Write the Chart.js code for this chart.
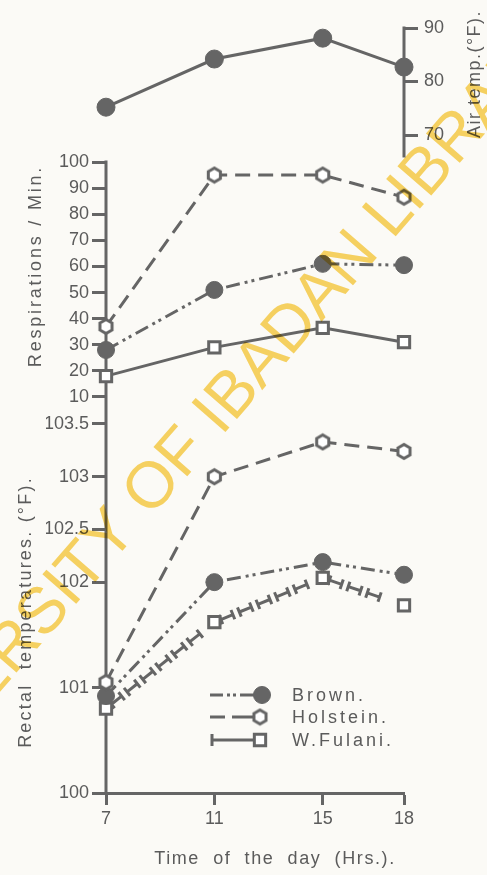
<!DOCTYPE html>
<html>
<head>
<meta charset="utf-8">
<script src="https://cdn.jsdelivr.net/npm/chart.js@4/dist/chart.umd.min.js"></script>
<style>
  html, body { margin: 0; padding: 0; background: #fbfaf6; }
  canvas { display: block; }
</style>
</head>
<body>
<canvas id="c" width="487" height="875"></canvas>
<script>
// Time of day (hours)
const hours = [7, 11, 15, 18];

// Air temperature (°F)
const airTemp = [75.2, 84.2, 88.1, 82.7];

// Respirations per minute
const respBrown = [28, 51, 61, 60.5];
const respHolstein = [37, 95, 95, 86.5];
const respFulani = [18, 29, 36.5, 31];

// Rectal temperatures (°F)
const rectBrown = [100.92, 102.0, 102.19, 102.07];
const rectHolstein = [101.05, 103.0, 103.33, 103.24];
const rectFulani = [100.8, 101.62, 102.04, 101.78];

// Tick labels
const hourTicks = [7, 11, 15, 18];
const airTicks = [70, 80, 90];
const respTicks = [10, 20, 30, 40, 50, 60, 70, 80, 90, 100];
const rectTicks = [100, 101, 102, 102.5, 103, 103.5];

const breeds = ['Brown.', 'Holstein.', 'W.Fulani.'];

const INK = '#656565';
const TXT = '#5b5b5b';
const FONT = '"Liberation Sans", Arial, sans-serif';

const pts = arr => hours.map((h, i) => ({ x: h, y: arr[i] }));

// hollow hexagon marker
function hexMarker(r, lw) {
  const s = Math.ceil(2 * r + lw + 2);
  const c = document.createElement('canvas');
  c.width = s; c.height = s;
  const g = c.getContext('2d');
  g.beginPath();
  for (let k = 0; k < 6; k++) {
    const a = Math.PI / 6 + k * Math.PI / 3;
    const px = s / 2 + r * Math.cos(a), py = s / 2 + r * Math.sin(a);
    k ? g.lineTo(px, py) : g.moveTo(px, py);
  }
  g.closePath();
  g.fillStyle = '#ffffff';
  g.fill();
  g.lineWidth = lw;
  g.strokeStyle = INK;
  g.stroke();
  return c;
}
const hex = hexMarker(7, 3);

const DASH_HOL = [15, 8];
const DASH_BRN = [14, 5, 3, 4, 3, 5];

const styleBrown = {
  borderColor: INK, borderWidth: 3, borderDash: DASH_BRN,
  pointStyle: 'circle', pointRadius: 8.5, pointBackgroundColor: INK, pointBorderColor: INK, pointBorderWidth: 1
};
const styleHol = {
  borderColor: INK, borderWidth: 3, borderDash: DASH_HOL,
  pointStyle: hex, pointRadius: 8, pointBackgroundColor: '#fff', pointBorderColor: INK, pointBorderWidth: 3
};
const styleFul = {
  borderColor: INK, borderWidth: 3,
  pointStyle: 'rect', pointRadius: 8, pointBackgroundColor: '#fff', pointBorderColor: INK, pointBorderWidth: 3
};

const datasets = [
  { label: 'Air temp', data: pts(airTemp), yAxisID: 'yAir', borderColor: INK, borderWidth: 3,
    pointStyle: 'circle', pointRadius: 9, pointBackgroundColor: INK, pointBorderColor: INK, pointBorderWidth: 1 },
  Object.assign({ label: breeds[1], data: pts(respHolstein), yAxisID: 'yResp' }, styleHol),
  Object.assign({ label: breeds[0], data: pts(respBrown), yAxisID: 'yResp' }, styleBrown),
  Object.assign({ label: breeds[2], data: pts(respFulani), yAxisID: 'yResp' }, styleFul),
  Object.assign({ label: breeds[1], data: pts(rectHolstein), yAxisID: 'yRect' }, styleHol),
  Object.assign({ label: breeds[0], data: pts(rectBrown), yAxisID: 'yRect' }, styleBrown),
  Object.assign({ label: breeds[2], data: pts(rectFulani), yAxisID: 'yRect', showLine: false, capped: true }, styleFul)
];
datasets.forEach(d => { d.clip = false; d.xAxisID = 'x'; d.tension = 0; });

// Panel placement on the shared vertical extent
const AREA_TOP = 20, AREA_BOTTOM = 793, SPLIT = 410;
const respPx = 2.611;   // px per breath/min
const rectPx = 105.43;  // px per °F
const airPx = 5.35;     // px per °F
const respMax = 100 + (162 - AREA_TOP) / respPx;
const respMin = 100 - (SPLIT - 162) / respPx;
const rectMax = 100 + (AREA_BOTTOM - SPLIT) / rectPx;
const airMax = 90 + (28 - AREA_TOP) / airPx;
const airMin = 90 - (AREA_BOTTOM - 28) / airPx;

const tickFont = { family: FONT, size: 18 };

function yAxis(extra, ticks) {
  return Object.assign({
    type: 'linear',
    border: { display: false },
    grid: { display: true, drawOnChartArea: false, drawTicks: true, tickLength: 14, tickWidth: 3, tickColor: INK },
    ticks: { color: TXT, font: tickFont, padding: 3, autoSkip: false, callback: v => String(v) },
    afterBuildTicks: s => { s.ticks = ticks.map(v => ({ value: v })); }
  }, extra);
}

// capped-dash line for the W. Fulani rectal series
function cappedLine(ctx, p) {
  const dash = 13, gap = 7, cap = 5, skip = 7;
  ctx.save();
  ctx.strokeStyle = INK; ctx.lineWidth = 3; ctx.lineCap = 'butt';
  for (let i = 0; i < p.length - 1; i++) {
    const a = p[i], b = p[i + 1];
    const dx = b.x - a.x, dy = b.y - a.y, L = Math.hypot(dx, dy);
    const ux = dx / L, uy = dy / L, nx = -uy, ny = ux;
    let s = skip;
    while (s + dash <= L - skip + 0.01) {
      const x0 = a.x + ux * s, y0 = a.y + uy * s;
      const x1 = a.x + ux * (s + dash), y1 = a.y + uy * (s + dash);
      ctx.beginPath();
      ctx.moveTo(x0, y0); ctx.lineTo(x1, y1);
      ctx.moveTo(x0 + nx * cap, y0 + ny * cap); ctx.lineTo(x0 - nx * cap, y0 - ny * cap);
      ctx.moveTo(x1 + nx * cap, y1 + ny * cap); ctx.lineTo(x1 - nx * cap, y1 - ny * cap);
      ctx.stroke();
      s += dash + gap;
    }
  }
  ctx.restore();
}

function vText(ctx, text, x, y, size, spacing) {
  ctx.save();
  ctx.translate(x, y);
  ctx.rotate(-Math.PI / 2);
  ctx.font = size + 'px ' + FONT;
  ctx.letterSpacing = spacing + 'px';
  ctx.fillStyle = TXT;
  ctx.textAlign = 'center';
  ctx.textBaseline = 'middle';
  ctx.fillText(text, 0, 0);
  ctx.restore();
}

const decor = {
  id: 'decor',
  beforeDraw(chart) {
    const ctx = chart.ctx;
    ctx.save();
    ctx.fillStyle = '#fbfaf6';
    ctx.fillRect(0, 0, chart.width, chart.height);
    ctx.restore();
  },
  beforeDatasetsDraw(chart) {
    const ctx = chart.ctx, s = chart.scales;
    const x7 = s.x.getPixelForValue(hours[0]);
    ctx.save();
    ctx.strokeStyle = INK; ctx.lineWidth = 3; ctx.lineCap = 'butt';
    // left axis spine: respirations down to rectal base
    ctx.beginPath();
    ctx.moveTo(x7, s.yResp.getPixelForValue(100) - 1.5);
    ctx.lineTo(x7, s.yRect.getPixelForValue(100));
    ctx.stroke();
    // air temperature spine
    const xr = s.yAir.left;
    ctx.beginPath();
    ctx.moveTo(xr, s.yAir.getPixelForValue(90) - 1.5);
    ctx.lineTo(xr, s.yAir.getPixelForValue(65.8));
    ctx.stroke();
    ctx.restore();
    chart.data.datasets.forEach((d, i) => {
      if (d.capped) cappedLine(ctx, chart.getDatasetMeta(i).data);
    });
  },
  afterDraw(chart) {
    const ctx = chart.ctx;
    // axis titles
    vText(ctx, 'Respirations / Min.', 36, 266, 18, 2.8);
    vText(ctx, 'Rectal  temperatures. (°F).', 26, 612, 18, 2.2);
    vText(ctx, 'Air temp.(°F).', 475, 74, 18, 1.5);
    ctx.save();
    ctx.font = '18px ' + FONT;
    ctx.letterSpacing = '1.6px';
    ctx.fillStyle = TXT;
    ctx.textAlign = 'center';
    ctx.textBaseline = 'middle';
    ctx.fillText('Time  of  the  day  (Hrs.).', 275, 859);
    ctx.restore();

    // key
    const rows = [695, 717, 740];
    ctx.save();
    ctx.strokeStyle = INK; ctx.fillStyle = INK; ctx.lineWidth = 3; ctx.lineCap = 'butt';
    // Brown
    let y = rows[0];
    ctx.beginPath(); ctx.moveTo(210, y); ctx.lineTo(223, y); ctx.stroke();
    ctx.beginPath(); ctx.moveTo(227, y); ctx.lineTo(230, y); ctx.moveTo(233, y); ctx.lineTo(236, y); ctx.stroke();
    ctx.beginPath(); ctx.moveTo(240, y); ctx.lineTo(258, y); ctx.stroke();
    ctx.fillStyle = INK; ctx.lineWidth = 1;
    Chart.helpers.drawPoint(ctx, { pointStyle: 'circle', radius: 8.5, borderWidth: 1, rotation: 0 }, 262, y);
    // Holstein
    y = rows[1];
    ctx.lineWidth = 3;
    ctx.beginPath(); ctx.moveTo(210, y); ctx.lineTo(225, y); ctx.moveTo(232, y); ctx.lineTo(254, y); ctx.stroke();
    Chart.helpers.drawPoint(ctx, { pointStyle: hex, radius: 8, borderWidth: 3, rotation: 0 }, 260, y);
    // W. Fulani
    y = rows[2];
    ctx.beginPath(); ctx.moveTo(212, y - 6); ctx.lineTo(212, y + 6); ctx.moveTo(212, y); ctx.lineTo(254, y); ctx.stroke();
    ctx.fillStyle = '#fff';
    Chart.helpers.drawPoint(ctx, { pointStyle: 'rect', radius: 8, borderWidth: 3, rotation: 0 }, 260, y);
    ctx.font = '18px ' + FONT;
    ctx.letterSpacing = '3px';
    ctx.fillStyle = TXT;
    ctx.textAlign = 'left';
    ctx.textBaseline = 'middle';
    breeds.forEach((b, i) => ctx.fillText(b, 292, rows[i] + 1));
    ctx.restore();

    // library stamp across the sheet
    ctx.save();
    ctx.globalCompositeOperation = 'multiply';
    ctx.fillStyle = '#f9d463';
    ctx.font = '65px ' + FONT;
    const txt = 'UNIVERSITY OF IBADAN LIBRARY';
    const pre = ctx.measureText('UNIVERSITY OF ').width + ctx.measureText('I').width / 2;
    ctx.translate(214, 418);
    ctx.rotate(-49 * Math.PI / 180);
    ctx.textBaseline = 'middle';
    ctx.textAlign = 'left';
    ctx.fillText(txt, -pre, 0);
    ctx.restore();
  }
};

new Chart(document.getElementById('c'), {
  type: 'line',
  data: { datasets },
  plugins: [decor],
  options: {
    responsive: false,
    animation: false,
    devicePixelRatio: 1,
    layout: { padding: { left: 46, right: 33, top: AREA_TOP, bottom: 42 } },
    plugins: { legend: { display: false }, tooltip: { enabled: false } },
    elements: { line: { borderCapStyle: 'butt' } },
    scales: {
      x: {
        type: 'linear', position: 'bottom', min: 7, max: 18,
        afterBuildTicks: s => { s.ticks = hourTicks.map(v => ({ value: v })); },
        grid: { display: true, drawOnChartArea: false, drawTicks: true, tickLength: 12, tickWidth: 3, tickColor: INK },
        border: { display: true, color: INK, width: 3 },
        ticks: { color: TXT, font: tickFont, padding: 3, maxRotation: 0, autoSkip: false, callback: v => String(v) },
        afterFit: s => { s.height = 40; }
      },
      yResp: yAxis({ position: 'left', stack: 'left', stackWeight: SPLIT - AREA_TOP, weight: 2,
        min: respMin, max: respMax, afterFit: s => { s.width = 60; } }, respTicks),
      yRect: yAxis({ position: 'left', stack: 'left', stackWeight: AREA_BOTTOM - SPLIT, weight: 1,
        min: 100, max: rectMax, afterFit: s => { s.width = 60; } }, rectTicks),
      yAir: yAxis({ position: 'right', min: airMin, max: airMax,
        ticks: { color: TXT, font: tickFont, padding: 6, autoSkip: false, callback: v => String(v) },
        afterFit: s => { s.width = 50; } }, airTicks)
    }
  }
});
</script>
</body>
</html>
